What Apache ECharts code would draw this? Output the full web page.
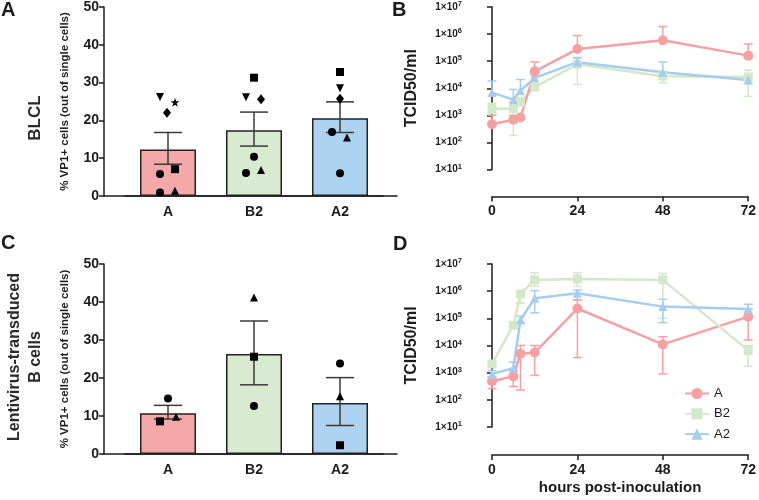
<!DOCTYPE html>
<html>
  <head>
    <meta charset="utf-8">
    <title>VP1 / TCID50</title>
    <script src="https://cdn.jsdelivr.net/npm/echarts@6/dist/echarts.min.js"></script>
    <style>
      html, body { margin: 0; padding: 0; background: #fff; }
      #chart { width: 759px; height: 500px; }
    </style>
  </head>
  <body>
    <div id="chart"></div>
    <script type="text/javascript">

      // categories
      var groups = ['A', 'B2', 'A2'];
      var hours = [0, 6, 8, 12, 24, 48, 72];
      var logTicks = [10, 100, 1000, 10000, 100000, 1000000, 10000000];

      // panel A - BLCL, % VP1+ cells (mean, SEM low, SEM high)
      var blclMean = [12.3, 17.4, 20.6];
      var blclLow = [8.4, 13.2, 16.8];
      var blclHigh = [16.8, 22.2, 24.9];
      var blclA = [26.2, 24.8, 22.0, 7.1, 5.8, 1.4, 0.9];
      var blclB2 = [31.3, 26.1, 25.6, 10.4, 6.1, 6.9];
      var blclA2 = [32.8, 28.5, 25.7, 16.9, 15.5, 6.0];

      // panel C - lentivirus-transduced B cells
      var ltMean = [10.7, 26.3, 13.4];
      var ltLow = [9.2, 18.2, 7.5];
      var ltHigh = [12.8, 35.0, 20.1];
      var ltA = [14.6, 8.6, 9.8];
      var ltB2 = [41.2, 25.6, 12.6];
      var ltA2 = [23.8, 15.2, 2.3];

      // panel B - BLCL TCID50/ml (null = no bar drawn)
      var bA = [470, 690, 830, 42000, 280000, 590000, 160000];
      var bAHi = [1000, 1000, null, 94000, 880000, 1900000, 430000];
      var bALo = [null, null, null, null, null, null, null];
      var bB2 = [1760, 1760, 3100, 11000, 77000, 28000, 26000];
      var bB2Hi = [2800, 2200, 4500, 13000, 140000, 40000, 46000];
      var bB2Lo = [1150, 180, 2300, 9000, 14000, 16000, 5000];
      var bA2 = [6900, 3800, 8200, 24000, 92000, 39000, 20000];
      var bA2Hi = [18500, 9000, 21000, 30000, 130000, 93000, 26000];
      var bA2Lo = [null, 3000, null, null, null, null, 15000];

      // panel D - lentivirus-transduced B cells TCID50/ml
      var dA = [480, 730, 5000, 5500, 230000, 11000, 115000];
      var dAHi = [650, 1200, 10000, 10000, 480000, 21000, 220000];
      var dALo = [260, 310, 230, 790, 3600, 900, 16000];
      var dB2 = [2100, 56000, 790000, 2600000, 2800000, 2600000, 6600];
      var dB2Hi = [2400, 65000, 1000000, 4800000, 4800000, 4500000, 10000];
      var dB2Lo = [1800, 48000, 360000, 1500000, 1500000, 100000, 1700];
      var dA2 = [900, 1450, 87000, 550000, 840000, 270000, 220000];
      var dA2Hi = [1200, 2500, 120000, 1050000, 1100000, 500000, 330000];
      var dA2Lo = [700, 1200, 70000, 160000, 480000, 69000, 170000];

      // marker shapes and horizontal jitter of the replicate dots
      var blclShapes = [
        ['down', 'star', 'diamond', 'rect', 'circle', 'triangle', 'circle'],
        ['rect', 'down', 'diamond', 'circle', 'circle', 'triangle'],
        ['rect', 'down', 'diamond', 'circle', 'triangle', 'circle']
      ];
      var blclJitter = [
        [-8, 7, -1, 7, -8, 7, -8],
        [0, -8, 7, 0, -8, 7],
        [0, 0, 0, -8, 7, 0]
      ];
      var ltShapes = [
        ['circle', 'rect', 'triangle'],
        ['triangle', 'rect', 'circle'],
        ['circle', 'triangle', 'rect']
      ];
      var ltJitter = [
        [0, -8, 8],
        [0, 0, 0],
        [0, 0, 0]
      ];

      var barFill = ['#f5a8a8', '#d8ead0', '#acd2f0'];
      var lineCol = ['#f5a1a3', '#d3e8c8', '#a6cdef'];
      var FONT = 'Liberation Sans, Arial, sans-serif';
      var INK = '#1c1c1c';

      var symbolPaths = {
        down: 'path://M0,0 L10,0 L5,9 Z',
        star: 'path://M5,0 L6.2,3.6 L10,3.6 L6.9,5.9 L8.1,9.5 L5,7.3 L1.9,9.5 L3.1,5.9 L0,3.6 L3.8,3.6 Z',
        rect: 'rect',
        circle: 'circle',
        diamond: 'diamond',
        triangle: 'triangle'
      };

      var myChart = echarts.init(document.getElementById('chart'));

      function axisLineStyle() {
        return { lineStyle: { color: INK, width: 1.5 } };
      }

      function dotData(lists, shapes, jitter) {
        var out = [];
        for (var g = 0; g < lists.length; g++) {
          for (var k = 0; k < lists[g].length; k++) {
            var s = shapes[g][k];
            out.push({
              value: [g, lists[g][k]],
              symbol: symbolPaths[s],
              symbolSize: s == 'diamond' ? [8, 10] : (s == 'star' ? 9 : 8),
              symbolOffset: [jitter[g][k], 0]
            });
          }
        }
        return out;
      }

      function barErr(params, api) {
        var x = api.value(0);
        var lo = api.coord([x, api.value(1)]);
        var hi = api.coord([x, api.value(2)]);
        var w = 14;
        var st = { stroke: '#3a3a3a', lineWidth: 1.5 };
        return {
          type: 'group',
          children: [
            { type: 'line', shape: { x1: lo[0], y1: lo[1], x2: hi[0], y2: hi[1] }, style: st },
            { type: 'line', shape: { x1: lo[0] - w, y1: lo[1], x2: lo[0] + w, y2: lo[1] }, style: st },
            { type: 'line', shape: { x1: hi[0] - w, y1: hi[1], x2: hi[0] + w, y2: hi[1] }, style: st }
          ]
        };
      }

      function lineErr(color) {
        return function (params, api) {
          var x = api.value(0);
          var m = api.value(1);
          var lo = api.value(2);
          var hi = api.value(3);
          var pm = api.coord([x, m]);
          var w = 4.5;
          var st = { stroke: color, lineWidth: 1.5 };
          var kids = [];
          var top = pm[1], bot = pm[1];
          if (hi > m) {
            top = api.coord([x, hi])[1];
            kids.push({ type: 'line', shape: { x1: pm[0] - w, y1: top, x2: pm[0] + w, y2: top }, style: st });
          }
          if (lo < m) {
            bot = api.coord([x, lo])[1];
            kids.push({ type: 'line', shape: { x1: pm[0] - w, y1: bot, x2: pm[0] + w, y2: bot }, style: st });
          }
          kids.push({ type: 'line', shape: { x1: pm[0], y1: top, x2: pm[0], y2: bot }, style: st });
          return { type: 'group', children: kids };
        };
      }

      function errData(mean, lo, hi) {
        var out = [];
        for (var i = 0; i < hours.length; i++) {
          out.push([hours[i], mean[i], lo[i] == null ? mean[i] : lo[i], hi[i] == null ? mean[i] : hi[i]]);
        }
        return out;
      }

      function pairs(vals) {
        var out = [];
        for (var i = 0; i < hours.length; i++) out.push([hours[i], vals[i]]);
        return out;
      }

      function supLabel(v) {
        var e = Math.round(Math.log(v) / Math.LN10);
        return '{b|1×10}{s|' + e + '}';
      }

      // bar panel axes
      function barX(gridIndex) {
        return {
          type: 'category', gridIndex: gridIndex, data: groups,
          axisLine: axisLineStyle(),
          axisTick: { alignWithLabel: true, length: 5, lineStyle: { color: INK, width: 1.5 } },
          axisLabel: { color: INK, fontFamily: FONT, fontWeight: 'bold', fontSize: 14, margin: 9 }
        };
      }
      function deco(gridIndex) {
        return {
          type: 'value', gridIndex: gridIndex, min: 0, max: 1,
          axisLine: axisLineStyle(), axisTick: { show: false }, axisLabel: { show: false }, splitLine: { show: false }
        };
      }
      function barY(gridIndex) {
        return {
          type: 'value', gridIndex: gridIndex, min: 0, max: 50, interval: 10, offset: 21,
          name: '% VP1+ cells (out of single cells)', nameLocation: 'middle', nameGap: 33,
          nameTextStyle: { color: INK, fontFamily: FONT, fontWeight: 'bold', fontSize: 11.5 },
          axisLine: { show: true, lineStyle: { color: INK, width: 1.5 } },
          axisTick: { show: true, length: 5, lineStyle: { color: INK, width: 1.5 } },
          axisLabel: { color: INK, fontFamily: FONT, fontWeight: 'bold', fontSize: 14, margin: 5 },
          splitLine: { show: false }
        };
      }
      function timeX(gridIndex, offset, named) {
        var ax = {
          type: 'value', gridIndex: gridIndex, min: 0, max: 72, interval: 24, offset: offset,
          axisLine: axisLineStyle(),
          axisTick: { show: true, length: 5, lineStyle: { color: INK, width: 1.5 } },
          axisLabel: { color: INK, fontFamily: FONT, fontWeight: 'bold', fontSize: 14, margin: 8 },
          splitLine: { show: false }
        };
        if (named) {
          ax.name = 'hours post-inoculation';
          ax.nameLocation = 'middle';
          ax.nameGap = 25;
          ax.nameTextStyle = { color: INK, fontFamily: FONT, fontWeight: 'bold', fontSize: 15 };
        }
        return ax;
      }
      function logY(gridIndex) {
        return {
          type: 'log', logBase: 10, gridIndex: gridIndex, min: 10, max: 10000000, offset: 26,
          name: 'TCID50/ml', nameLocation: 'middle', nameGap: 46,
          nameTextStyle: { color: INK, fontFamily: FONT, fontWeight: 'bold', fontSize: 16 },
          axisLine: { show: true, lineStyle: { color: INK, width: 1.5 } },
          axisTick: { show: true, length: 5, lineStyle: { color: INK, width: 1.5 } },
          axisLabel: {
            formatter: supLabel, margin: 4,
            rich: {
              b: { color: INK, fontFamily: FONT, fontWeight: 'bold', fontSize: 10 },
              s: { color: INK, fontFamily: FONT, fontWeight: 'bold', fontSize: 7.5, verticalAlign: 'top', padding: [0, 0, 6, 0] }
            }
          },
          splitLine: { show: false }
        };
      }

      var shapesLine = ['circle', 'rect', 'triangle'];
      var names = ['A', 'B2', 'A2'];

      function lineSeries(axisIdx, vals, i) {
        return {
          name: names[i], type: 'line', xAxisIndex: axisIdx, yAxisIndex: axisIdx,
          data: pairs(vals), symbol: shapesLine[i], symbolSize: i == 0 ? 10 : 9,
          showSymbol: true, z: 5,
          lineStyle: { color: lineCol[i], width: 2.5 },
          itemStyle: { color: lineCol[i] }
        };
      }
      function errSeries(axisIdx, mean, lo, hi, i) {
        return {
          name: names[i] + ' err', type: 'custom', xAxisIndex: axisIdx, yAxisIndex: axisIdx,
          data: errData(mean, lo, hi), renderItem: lineErr(lineCol[i]), z: 4, silent: true
        };
      }

      var option = {
        animation: false,
        backgroundColor: '#fff',
        grid: [
          { left: 125, width: 258, top: 5, height: 191 },
          { left: 104, width: 293, top: 5, height: 191 },
          { left: 492, width: 258, top: 7, height: 162.5 },
          { left: 125, width: 258, top: 264, height: 190 },
          { left: 104, width: 293, top: 264, height: 190 },
          { left: 492, width: 258, top: 264, height: 163 }
        ],
        xAxis: [barX(0), deco(1), timeX(2, 27, false), barX(3), deco(4), timeX(5, 28, true)],
        yAxis: [
          barY(0),
          { type: 'value', gridIndex: 1, min: 0, max: 1, show: false },
          logY(2),
          barY(3),
          { type: 'value', gridIndex: 4, min: 0, max: 1, show: false },
          logY(5)
        ],
        legend: {
          data: names, orient: 'vertical', left: 679, top: 382,
          itemWidth: 24, itemHeight: 14, itemGap: 7.3,
          textStyle: { color: INK, fontFamily: FONT, fontSize: 13 }
        },
        graphic: [
          { type: 'text', left: 1, top: 0, style: { text: 'A', fill: INK, font: 'bold 20px ' + FONT } },
          { type: 'text', left: 392, top: 0, style: { text: 'B', fill: INK, font: 'bold 20px ' + FONT } },
          { type: 'text', left: 1, top: 233, style: { text: 'C', fill: INK, font: 'bold 20px ' + FONT } },
          { type: 'text', left: 393, top: 234, style: { text: 'D', fill: INK, font: 'bold 20px ' + FONT } },
          { type: 'text', x: 35, y: 118, rotation: Math.PI / 2,
            style: { text: 'BLCL', fill: '#2a2a2a', font: 'bold 17px ' + FONT, align: 'center', verticalAlign: 'middle' } },
          { type: 'text', x: 25, y: 357, rotation: Math.PI / 2,
            style: { text: 'Lentivirus-transduced\nB cells', fill: '#2a2a2a', font: 'bold 16px ' + FONT, lineHeight: 21, align: 'center', verticalAlign: 'middle' } }
        ],
        series: [
          // panel A
          {
            type: 'bar', xAxisIndex: 0, yAxisIndex: 0, barWidth: 56, z: 2,
            data: blclMean.map(function (v, i) { return { value: v, itemStyle: { color: barFill[i] } }; }),
            itemStyle: { borderColor: '#222', borderWidth: 1.5 }
          },
          {
            type: 'custom', xAxisIndex: 0, yAxisIndex: 0, z: 3, silent: true, renderItem: barErr,
            data: blclMean.map(function (v, i) { return [i, blclLow[i], blclHigh[i]]; })
          },
          {
            type: 'scatter', xAxisIndex: 0, yAxisIndex: 0, z: 4, itemStyle: { color: '#000', opacity: 1 },
            data: dotData([blclA, blclB2, blclA2], blclShapes, blclJitter)
          },
          // panel C
          {
            type: 'bar', xAxisIndex: 3, yAxisIndex: 3, barWidth: 56, z: 2,
            data: ltMean.map(function (v, i) { return { value: v, itemStyle: { color: barFill[i] } }; }),
            itemStyle: { borderColor: '#222', borderWidth: 1.5 }
          },
          {
            type: 'custom', xAxisIndex: 3, yAxisIndex: 3, z: 3, silent: true, renderItem: barErr,
            data: ltMean.map(function (v, i) { return [i, ltLow[i], ltHigh[i]]; })
          },
          {
            type: 'scatter', xAxisIndex: 3, yAxisIndex: 3, z: 4, itemStyle: { color: '#000', opacity: 1 },
            data: dotData([ltA, ltB2, ltA2], ltShapes, ltJitter)
          },
          // panel B
          errSeries(2, bB2, bB2Lo, bB2Hi, 1),
          errSeries(2, bA2, bA2Lo, bA2Hi, 2),
          errSeries(2, bA, bALo, bAHi, 0),
          lineSeries(2, bB2, 1),
          lineSeries(2, bA2, 2),
          lineSeries(2, bA, 0),
          // panel D
          errSeries(5, dB2, dB2Lo, dB2Hi, 1),
          errSeries(5, dA2, dA2Lo, dA2Hi, 2),
          errSeries(5, dA, dALo, dAHi, 0),
          lineSeries(5, dA, 0),
          lineSeries(5, dB2, 1),
          lineSeries(5, dA2, 2)
        ]
      };

      myChart.setOption(option);
    </script>
  </body>
</html>
